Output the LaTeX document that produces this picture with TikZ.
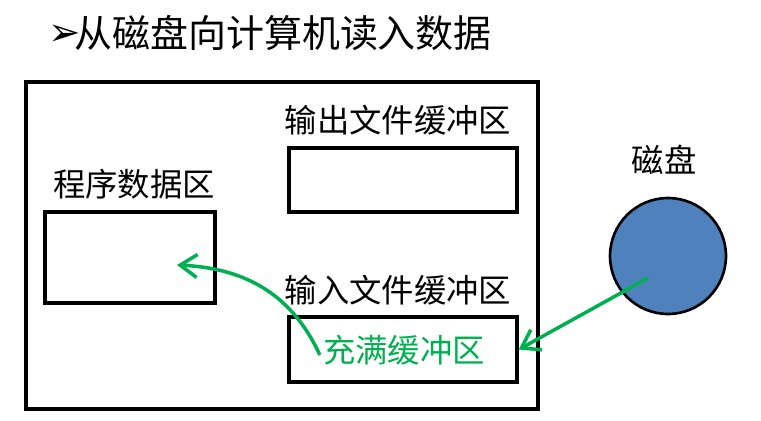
\documentclass[tikz,border=0pt]{standalone}
\usepackage{fontspec}
\setmainfont{Noto Sans CJK SC}
\newfontfamily\symfont{DejaVu Sans}
\usepackage{tikz}
\usepackage{xcolor}
\usetikzlibrary{arrows.meta,positioning,calc}
\definecolor{fillgreen}{HTML}{00B050}
\definecolor{diskblue}{HTML}{4F81BD}

\begin{document}
\begin{tikzpicture}[
    x=0.02cm, y=-0.02cm,
    box/.style={draw, line width=2pt, inner sep=0pt},
    lbl/.style={font=\fontsize{18.4}{22}\selectfont, inner sep=0pt},
    arrow/.style={-{Straight Barb[length=3.4mm,width=4.6mm]}, line width=2pt, fillgreen}
]
\useasboundingbox (0,0) rectangle (761,420);

\node[lbl, anchor=west] (bullet) at (48,35) {\symfont\fontsize{22}{24}\selectfont ➢};
\node[lbl, font=\fontsize{21.6}{26}\selectfont, anchor=west] (title) at (74,33)
    {从磁盘向计算机读入数据};

\node[box, minimum width=10.24cm, minimum height=6.54cm] (frame) at (282,245.5) {};
\node[box, minimum width=4.56cm, minimum height=1.28cm] (outbuf) at (403,180) {};
\node[box, minimum width=3.4cm, minimum height=1.82cm] (prog) at (130,257.5) {};
\node[box, minimum width=4.56cm, minimum height=1.3cm] (inbuf) at (403,349.5) {};
\node[circle, draw, line width=1.5pt, fill=diskblue, minimum size=2.32cm, inner sep=0pt] (disk) at (668,256) {};

\node[lbl] (outlbl) at (398,120) {输出文件缓冲区};
\node[lbl] (proglbl) at (134,184) {程序数据区};
\node[lbl] (inlbl) at (398,290) {输入文件缓冲区};
\node[lbl] (disklbl) at (664,160) {磁盘};
\node[lbl, text=fillgreen] (fill) at (404,350) {充满缓冲区};

\coordinate (src) at ($(disk)+(-20,22)$);
\coordinate (dst) at (177,265);
\draw[arrow] (src) -- (inbuf.east);
\draw[arrow] (fill.west) ++(-3,5) .. controls (290,290) and (240,268) .. (dst);
\end{tikzpicture}
\end{document}
